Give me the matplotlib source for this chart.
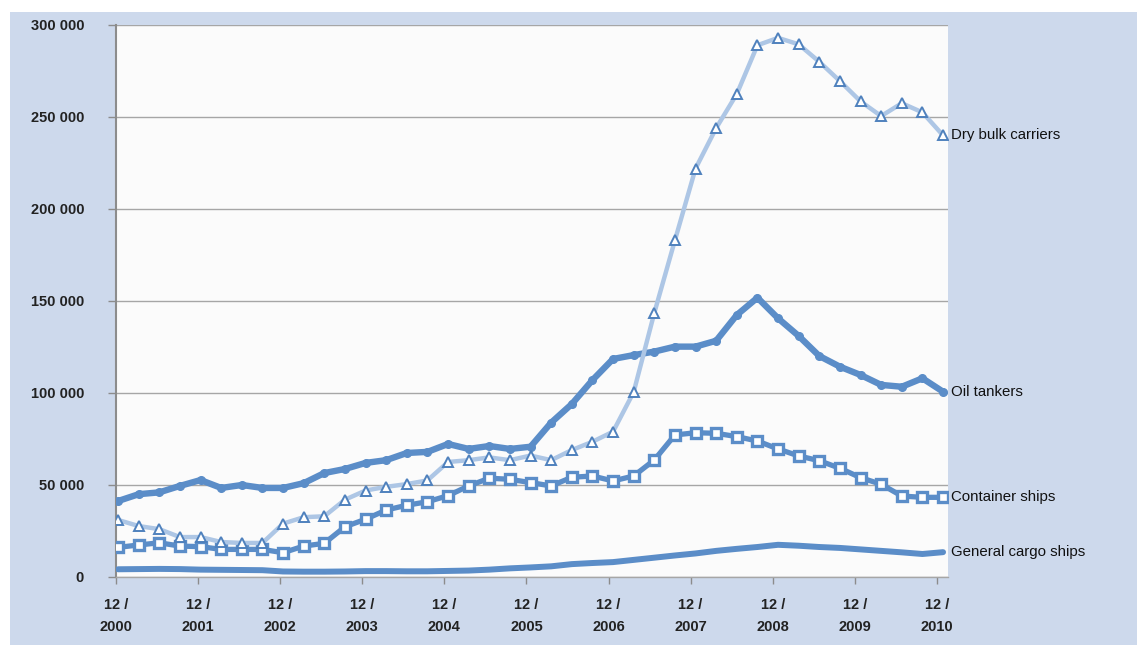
import matplotlib
matplotlib.use("Agg")
import matplotlib.pyplot as plt
import numpy as np

plt.rcParams['font.family'] = ['Liberation Sans', 'DejaVu Sans']

# Quarterly observations, 12/2000 ... 12/2010 (41 points)
years = list(range(2000, 2011))
tick_labels = [f"12 /\n{y}" for y in years]

dry_bulk = [31000, 27700, 26000, 21700, 21700, 19000, 18500, 18500, 29000, 32500,
            33000, 42000, 47000, 49000, 50500, 52500, 62500, 63500, 65000, 63500,
            66000, 63500, 69000, 73500, 79000, 100500, 143500, 183000, 222000, 244000,
            262500, 289000, 293000, 289500, 280000, 269500, 258500, 250500, 257500, 252500,
            240000]
oil_tankers = [41300, 45000, 46000, 49500, 52700, 48400, 50000, 48400, 48400, 51000,
               56500, 58700, 62000, 63500, 67400, 68000, 72300, 69600, 71200, 69600,
               70800, 83900, 94000, 107000, 118500, 120600, 122500, 125200, 125200, 128400,
               142400, 151800, 140600, 131000, 120100, 114300, 109800, 104400, 103400, 108000,
               100700]
container = [16100, 17400, 18600, 16800, 16500, 15000, 15000, 15000, 13200, 16800,
             18300, 27300, 31400, 36400, 39000, 40900, 44200, 49500, 53700, 53100,
             51300, 49500, 54200, 54900, 52200, 54900, 63600, 77200, 78400, 78100,
             76300, 73900, 69600, 65800, 63200, 59100, 54000, 50400, 44000, 43300,
             43300]
general_cargo = [4200, 4300, 4400, 4300, 4000, 3900, 3800, 3700, 3000, 2900,
                 2900, 3000, 3200, 3200, 3100, 3100, 3300, 3500, 4000, 4700,
                 5200, 5800, 7000, 7600, 8100, 9300, 10500, 11700, 12800, 14200,
                 15300, 16300, 17500, 17000, 16300, 15800, 15000, 14200, 13400, 12500,
                 13500]
series_names = ["Dry bulk carriers", "Oil tankers", "Container ships", "General cargo ships"]
y_ticks = [0, 50000, 100000, 150000, 200000, 250000, 300000]

W, H = 1137, 645
fig = plt.figure(figsize=(W / 100, H / 100), dpi=100)
fig.patch.set_facecolor('white')
# light blue panel
fig.patches.append(plt.Rectangle((10 / W, 0), 1 - 10 / W, 1 - 12 / H,
                                 transform=fig.transFigure, facecolor='#cdd9ec',
                                 edgecolor='none', zorder=-10))

left, right, top, bottom = 116, 948, 25, 577
ax = fig.add_axes([left / W, 1 - bottom / H, (right - left) / W, (bottom - top) / H])
ax.set_facecolor('#fbfbfb')

x = np.arange(len(dry_bulk))
blue = '#5b8dc8'
light = '#adc6e5'

ax.plot(x, general_cargo, color=blue, lw=4.3, solid_capstyle='round', zorder=3)
ax.plot(x, container, color=blue, lw=3.8, marker='s', ms=7, mfc='white', mec=blue,
        mew=2.4, zorder=4)
ax.plot(x, oil_tankers, color=blue, lw=4.6, marker='o', ms=5.5, mfc=blue, mec=blue,
        zorder=5)
ax.plot(x, dry_bulk, color=light, lw=3.2, marker='^', ms=6.5, mfc='white', mec='#4f81bd',
        mew=1.4, zorder=6)

ax.set_ylim(0, 300000)
ax.set_xlim(-0.1, 40.24)
ax.set_yticks(y_ticks)
ax.set_yticklabels([f"{v:,}".replace(",", " ") for v in y_ticks],
                   fontsize=10.5, fontweight='bold', color='#222222')
ax.set_xticks(np.linspace(-0.1, 39.7, len(years)))
ax.set_xticklabels(tick_labels, fontsize=10.5, fontweight='bold', color='#222222',
                   linespacing=1.75)
ax.tick_params(axis='y', length=6, width=1, color='#8c8c8c', pad=17)
ax.tick_params(axis='x', length=5, width=1, color='#8c8c8c', pad=10)

ax.grid(axis='y', color='#a6a6a6', lw=1)
ax.set_axisbelow(True)
for s in ['top', 'right']:
    ax.spines[s].set_visible(False)
ax.spines['left'].set_color('#8c8c8c')
ax.spines['left'].set_linewidth(1.5)
ax.spines['bottom'].set_color('#a6a6a6')
ax.spines['bottom'].set_linewidth(1)

last = len(x) - 1
for name, vals in zip(series_names, [dry_bulk, oil_tankers, container, general_cargo]):
    ax.annotate(name, xy=(last, vals[-1]), xytext=(6, 0), textcoords='offset points',
                va='center', ha='left', fontsize=10.8, color='#111111',
                annotation_clip=False)

fig.savefig('out.png', dpi=100, facecolor=fig.get_facecolor())
